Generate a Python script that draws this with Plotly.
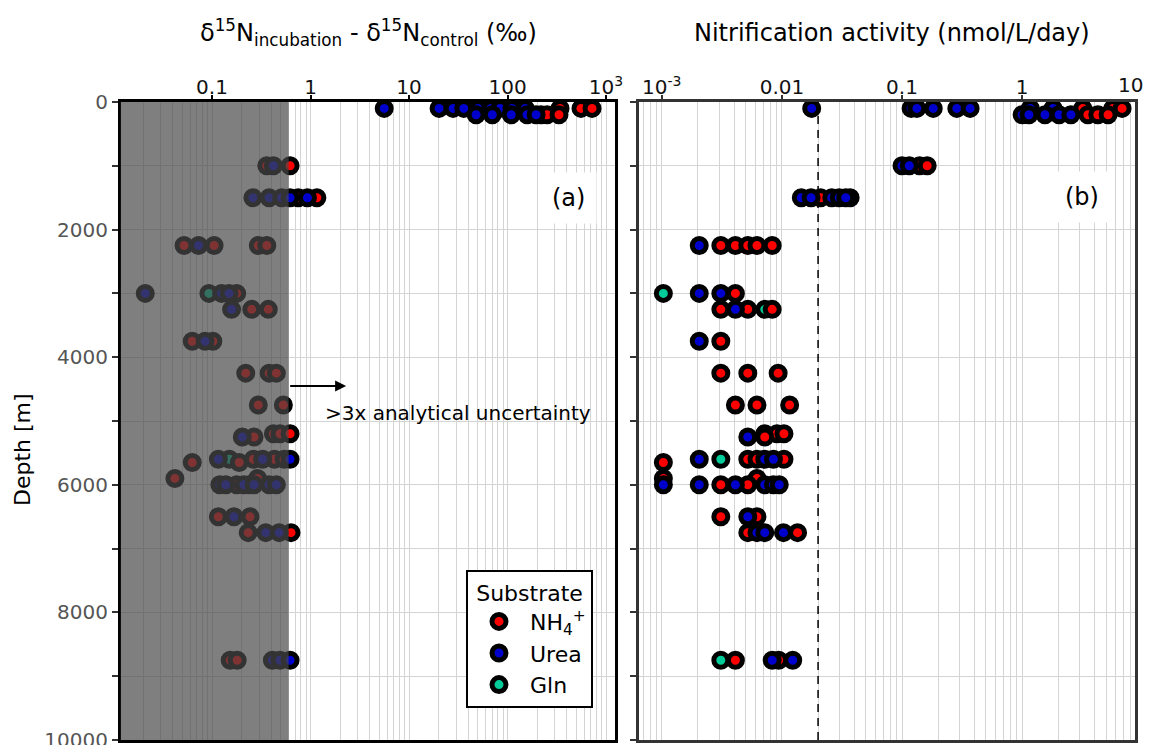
import numpy as np
import plotly.graph_objects as go

# ---------------- data ----------------
# Panel (a): delta15N incubation - control (permil) vs depth [m]
a_nh4_depth = [100, 100, 100, 200, 200, 200, 1000, 1000, 1500, 1500,
               2250, 2250, 2250, 2250, 3000, 3250, 3250, 3750, 3750,
               4250, 4250, 4250, 4750, 4750, 5200, 5200, 5200, 5250,
               5600, 5600, 5600, 5650, 5650, 5900, 5900, 6000, 6000,
               6500, 6500, 6750, 6750, 8750, 8750]
a_nh4_val = [341, 557, 721, 219, 252, 333, 0.36, 0.62, 0.75, 1.16,
             0.052, 0.105, 0.295, 0.36, 0.178, 0.253, 0.373, 0.063, 0.102,
             0.22, 0.38, 0.45, 0.295, 0.53, 0.42, 0.49, 0.62, 0.267,
             0.263, 0.43, 0.54, 0.063, 0.189, 0.042, 0.29, 0.178, 0.24,
             0.116, 0.243, 0.233, 0.634, 0.153, 0.18]

a_urea_depth = [100, 100, 100, 100, 100, 100, 100, 100, 100,
                200, 200, 200, 200, 200, 1000,
                1500, 1500, 1500, 1500, 1500, 2250, 3000, 3000, 3000,
                3250, 3750, 5250, 5600, 5600, 5600,
                6000, 6000, 6000, 6000, 6000, 6000, 6500, 6750, 6750,
                8750, 8750, 8750]
a_urea_val = [5.6, 20.2, 28, 36, 50, 68, 84, 111, 151,
              48, 70, 109, 158, 195, 0.42,
              0.26, 0.38, 0.51, 0.62, 0.93, 0.073, 0.021, 0.125, 0.149,
              0.158, 0.085, 0.203, 0.116, 0.327, 0.62,
              0.12, 0.138, 0.211, 0.267, 0.38, 0.45, 0.167, 0.351, 0.48,
              0.41, 0.49, 0.62]

a_gln_depth = [3000, 5600]
a_gln_val = [0.093, 0.150]

# Panel (b): nitrification activity (nmol/L/day) vs depth [m]
b_nh4_depth = [100, 100, 100, 200, 200, 200, 1000, 1000, 1500, 1500,
               2250, 2250, 2250, 2250, 2250, 3000, 3250, 3250, 3250, 3750,
               4250, 4250, 4250, 4750, 4750, 4750, 5200, 5200, 5200, 5250,
               5600, 5600, 5600, 5650, 5900, 5900, 6000, 6000,
               6500, 6500, 6750, 6750, 8750, 8750]
b_nh4_val = [3.2, 5.7, 6.8, 3.53, 4.27, 5.2, 0.14, 0.162, 0.021, 0.037,
             0.0031, 0.0041, 0.0052, 0.0062, 0.0083, 0.0041, 0.0031, 0.0052, 0.0083, 0.0031,
             0.0031, 0.0052, 0.0093, 0.0041, 0.0062, 0.0116, 0.0072, 0.0091, 0.0104, 0.0072,
             0.0052, 0.0062, 0.0104, 0.00103, 0.00103, 0.0062, 0.0031, 0.0052,
             0.0031, 0.0062, 0.0052, 0.0135, 0.0041, 0.0094]

b_urea_depth = [100, 100, 100, 100, 100, 100, 100, 100,
                200, 200, 200, 200, 200, 1000, 1000,
                1500, 1500, 1500, 1500, 1500, 2250, 3000, 3000, 3250, 3750,
                5250, 5600, 5600, 5600, 6000, 6000, 6000, 6000, 6000, 6000,
                6500, 6750, 6750, 6750, 8750, 8750]
b_urea_val = [0.0177, 0.119, 0.133, 0.182, 0.286, 0.369, 1.17, 1.81,
              1.0, 1.14, 1.55, 2.03, 2.55, 0.10, 0.115,
              0.0145, 0.0175, 0.026, 0.030, 0.034, 0.00205, 0.00205, 0.0031, 0.0041, 0.00205,
              0.0052, 0.00205, 0.0072, 0.0085, 0.00103, 0.00205, 0.0041, 0.0072, 0.0085, 0.0095,
              0.0052, 0.0062, 0.0072, 0.0103, 0.0083, 0.0123]

b_gln_depth = [3000, 3250, 5600, 8750]
b_gln_val = [0.00103, 0.0072, 0.0031, 0.0031]

a_tickvals = [0.1, 1, 10, 100, 1000]
a_ticktext = ["0.1", "1", "10", "100", "10<sup>3</sup>"]
b_tickvals = [0.001, 0.01, 0.1, 1]
b_ticktext = ["10<sup>-3</sup>", "0.01", "0.1", "1"]

depth_range = [10000, 0]
a_log_range = [-1.927, 3.091]
b_log_range = [-3.19, 0.94]
a_threshold = 0.6      # >3x analytical uncertainty
b_threshold = 0.02     # dashed reference line

# ---------------- styling ----------------
FONT = "DejaVu Sans"
GRID = "#d4d4d4"
RED, BLUE, GREEN = "#FF0000", "#0000CC", "#00CC99"
W, H = 1149, 745

xa_dom = [120.7 / W, 615 / W]
xb_dom = [639 / W, 1135 / W]
y_dom = [1 - 740 / H, 1 - 102 / H]

minor_vals = [m * 10.0 ** e for e in range(-4, 4) for m in range(2, 10)]

fig = go.Figure()

# dashed reference line in panel (b), drawn first so markers sit on top
fig.add_trace(go.Scatter(x=[b_threshold, b_threshold], y=depth_range,
                         xaxis="x2", yaxis="y2", mode="lines",
                         line=dict(color="black", width=1.5, dash="8px,6px"),
                         showlegend=False, hoverinfo="skip"))

series = [
    ("Gln", GREEN, a_gln_depth, a_gln_val, b_gln_depth, b_gln_val, 3),
    ("NH<sub>4</sub><sup>+</sup>", RED, a_nh4_depth, a_nh4_val, b_nh4_depth, b_nh4_val, 1),
    ("Urea", BLUE, a_urea_depth, a_urea_val, b_urea_depth, b_urea_val, 2),
]
for name, col, da, va, db, vb, rank in series:
    mk = dict(size=14, color=col, line=dict(color="black", width=5))
    fig.add_trace(go.Scatter(x=va, y=da, xaxis="x", yaxis="y", mode="markers",
                             marker=mk, name=name, legendgroup=name,
                             legendrank=rank, cliponaxis=False))
    fig.add_trace(go.Scatter(x=vb, y=db, xaxis="x2", yaxis="y2", mode="markers",
                             marker=mk, name=name, legendgroup=name,
                             showlegend=False, cliponaxis=False))

common_x = dict(type="log", side="top", showgrid=True, gridcolor=GRID, gridwidth=1,
                zeroline=False, ticks="outside", ticklen=4, tickwidth=1.5,
                tickmode="array", automargin=False, ticklabeloverflow="allow",
                ticklabelstandoff=-7,
                minor=dict(tickmode="array", tickvals=minor_vals, showgrid=True,
                           gridcolor=GRID, gridwidth=1, ticks=""),
                tickfont=dict(family=FONT, size=20, color="#111"),
                showline=True, linewidth=2.5, mirror=True)
common_y = dict(range=depth_range, domain=y_dom, tickmode="linear", tick0=0, dtick=2000,
                tickformat="d", showgrid=True, gridcolor=GRID, gridwidth=1,
                automargin=False, ticklabeloverflow="allow",
                zeroline=False, ticks="outside", ticklen=6, tickwidth=2, tickcolor="#333",
                minor=dict(tick0=0, dtick=1000, showgrid=True, gridcolor=GRID,
                           ticks="outside", ticklen=6, tickwidth=2, tickcolor="#333"),
                tickfont=dict(family=FONT, size=20, color="#555"),
                showline=True, linewidth=2.5, mirror=True)

fig.update_layout(
    template="none",
    width=W, height=H, autosize=False,
    margin=dict(l=0, r=0, t=0, b=0, pad=0, autoexpand=False),
    paper_bgcolor="white", plot_bgcolor="white",
    font=dict(family=FONT, size=20, color="black"),
    xaxis=dict(common_x, range=a_log_range, domain=xa_dom, anchor="y",
               tickvals=a_tickvals, ticktext=a_ticktext,
               linecolor="black", tickcolor="black"),
    yaxis=dict(common_y, anchor="x", linecolor="black"),
    xaxis2=dict(common_x, range=b_log_range, domain=xb_dom, anchor="y2",
                tickvals=b_tickvals, ticktext=b_ticktext,
                linecolor="#333", tickcolor="#333"),
    yaxis2=dict(common_y, anchor="x2", showticklabels=False, linecolor="#333"),
    legend=dict(x=466 / W, y=1 - 570 / H, xanchor="left", yanchor="top",
                bgcolor="white", bordercolor="black", borderwidth=2,
                font=dict(family=FONT, size=22, color="black"),
                title=dict(text="Substrate", side="top center",
                           font=dict(family=FONT, size=22, color="black")),
                itemsizing="trace", itemwidth=52, tracegroupgap=0),
)

# shaded region (below 3x analytical uncertainty) drawn over the points
frac_a = (np.log10(a_threshold) - a_log_range[0]) / (a_log_range[1] - a_log_range[0])
fig.add_shape(type="rect", xref="x domain", yref="y domain", x0=0, x1=frac_a, y0=0, y1=1,
              fillcolor="rgb(73,73,73)", opacity=0.7, line=dict(width=0), layer="above")

ann = []
# arrow from the shaded edge
ann.append(dict(x=np.log10(2.3), y=4450, xref="x", yref="y",
                ax=np.log10(a_threshold), ay=4450, axref="x", ayref="y",
                text="", showarrow=True, arrowhead=2, arrowsize=1.1, arrowwidth=2,
                arrowcolor="black"))
ann.append(dict(x=np.log10(1.34), y=4870, xref="x", yref="y", xanchor="left",
                yanchor="middle", text=">3x analytical uncertainty", showarrow=False,
                font=dict(family=FONT, size=20, color="black")))
# panel labels
for txt, px, py in [("(a)", 568, 198), ("(b)", 1082, 197)]:
    ann.append(dict(x=px / W, y=1 - py / H, xref="paper", yref="paper", text=txt,
                    xanchor="center", yanchor="middle",
                    showarrow=False, bgcolor="white", borderpad=11,
                    font=dict(family=FONT, size=24, color="black")))
# axis titles
ann.append(dict(x=368 / W, y=1 - 33 / H, xref="paper", yref="paper", showarrow=False,
                xanchor="center", yanchor="middle",
                text="δ<sup>15</sup>N<sub>incubation</sub> - δ<sup>15</sup>N<sub>control</sub> (‰)",
                font=dict(family=FONT, size=24, color="black")))
ann.append(dict(x=892 / W, y=1 - 33 / H, xref="paper", yref="paper", showarrow=False,
                xanchor="center", yanchor="middle",
                text="Nitrification activity (nmol/L/day)",
                font=dict(family=FONT, size=24, color="black")))
ann.append(dict(x=22 / W, y=1 - 450 / H, xref="paper", yref="paper", showarrow=False,
                xanchor="center", yanchor="middle",
                text="Depth [m]", textangle=-90,
                font=dict(family=FONT, size=22, color="black")))
# last decade label of panel (b) at the right edge
ann.append(dict(x=1130 / W, y=1 - 85 / H, xref="paper", yref="paper", showarrow=False,
                xanchor="center", yanchor="middle",
                text="10", font=dict(family=FONT, size=20, color="#111")))
fig.update_layout(annotations=ann)

fig.write_html("out.html", config={"displayModeBar": False})
